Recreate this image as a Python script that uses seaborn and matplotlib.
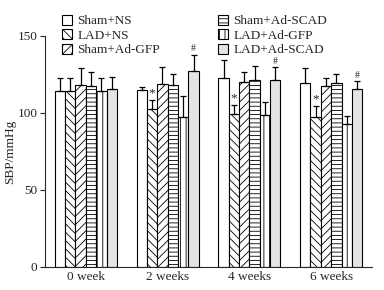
import numpy as np
import pandas as pd
import matplotlib
matplotlib.use('Agg')
import matplotlib.pyplot as plt
import seaborn as sns
from matplotlib.patches import Patch

# data (SBP, mmHg)
times = ['0 week', '2 weeks', '4 weeks', '6 weeks']
groups = ['Sham+NS', 'LAD+NS', 'Sham+Ad-GFP', 'Sham+Ad-SCAD', 'LAD+Ad-GFP', 'LAD+Ad-SCAD']

sham_ns = [114, 115, 122.5, 119.5]
lad_ns = [114, 102.7, 99.3, 97.3]
sham_gfp = [118, 119, 120, 117.3]
sham_scad = [117.7, 118.4, 121.2, 119.5]
lad_gfp = [114, 97.3, 98.8, 92.8]
lad_scad = [115.6, 127.3, 121.2, 115.6]

sham_ns_err = [9, 1.6, 12, 9.5]
lad_ns_err = [9, 6, 6, 7]
sham_gfp_err = [11, 11, 6.5, 5.5]
sham_scad_err = [9, 7, 9.5, 6]
lad_gfp_err = [9, 13.5, 8, 5.5]
lad_scad_err = [8, 10.6, 8.5, 5]

# marks: '*' over LAD+NS, '#' over LAD+Ad-SCAD
star_times = ['2 weeks', '4 weeks', '6 weeks']
hash_times = ['2 weeks', '4 weeks', '6 weeks']

values = [sham_ns, lad_ns, sham_gfp, sham_scad, lad_gfp, lad_scad]
errors = [sham_ns_err, lad_ns_err, sham_gfp_err, sham_scad_err, lad_gfp_err, lad_scad_err]

rows = []
for g, v, e in zip(groups, values, errors):
    for t, vv, ee in zip(times, v, e):
        rows.append({'time': t, 'group': g, 'value': vv, 'err': ee})
df = pd.DataFrame(rows)

sns.set_style('ticks')
plt.rcParams['font.family'] = ['Liberation Serif', 'DejaVu Serif']
plt.rcParams['hatch.linewidth'] = 0.6
plt.rcParams['hatch.color'] = 'black'

fills = ['white', 'white', 'white', 'white', 'white', '#e4e4e4']
hatches = ['', '\\\\\\\\', '////', '----', '|||', '']

fig = plt.figure(figsize=(3.84, 2.90), dpi=100)
ax = fig.add_axes([0.117, 0.080, 0.852, 0.796])

sns.barplot(data=df, x='time', y='value', hue='group', order=times, hue_order=groups,
            palette=dict(zip(groups, fills)), edgecolor='black', linewidth=0.8,
            width=0.76, gap=0, errorbar=None, legend=False, ax=ax)

bar_conts = list(ax.containers)
for i, cont in enumerate(bar_conts):
    for j, bar in enumerate(cont.patches):
        bar.set_hatch(hatches[i])
        bar.set_edgecolor('black')
        x = bar.get_x() + bar.get_width() / 2
        y = bar.get_height()
        e = errors[i][j]
        ax.errorbar(x, y, yerr=[[0], [e]], fmt='none', ecolor='black',
                    elinewidth=0.9, capsize=2.5, capthick=0.9)
        if groups[i] == 'LAD+NS' and times[j] in star_times:
            ax.text(x, y + e + 0.3, '*', ha='center', va='bottom', fontsize=9.5)
        if groups[i] == 'LAD+Ad-SCAD' and times[j] in hash_times:
            ax.text(x, y + e + 0.8, '#', ha='center', va='bottom', fontsize=7)

ax.set_xlim(-0.5, 3.5)
ax.set_ylim(0, 150)
ax.set_yticks([0, 50, 100, 150])
ax.set_xlabel('')
ax.set_ylabel('SBP/mmHg', fontsize=9.5, labelpad=1)
ax.tick_params(axis='y', direction='out', length=3.5, width=0.8, labelsize=9.5, pad=2)
ax.tick_params(axis='x', length=0, labelsize=9.5, pad=3)
sns.despine(ax=ax)
for s in ['left', 'bottom']:
    ax.spines[s].set_linewidth(0.8)

handles = [Patch(facecolor=f, edgecolor='black', hatch=h, linewidth=0.8)
           for f, h in zip(fills, hatches)]
fig.legend(handles, groups, ncol=2, loc='upper left', bbox_to_anchor=(0.138, 0.98),
           frameon=False, fontsize=9.5, handlelength=0.75, handleheight=0.75,
           handletextpad=0.4, labelspacing=0.15, columnspacing=4.4, borderpad=0.2)

fig.savefig('out.png', dpi=100)
